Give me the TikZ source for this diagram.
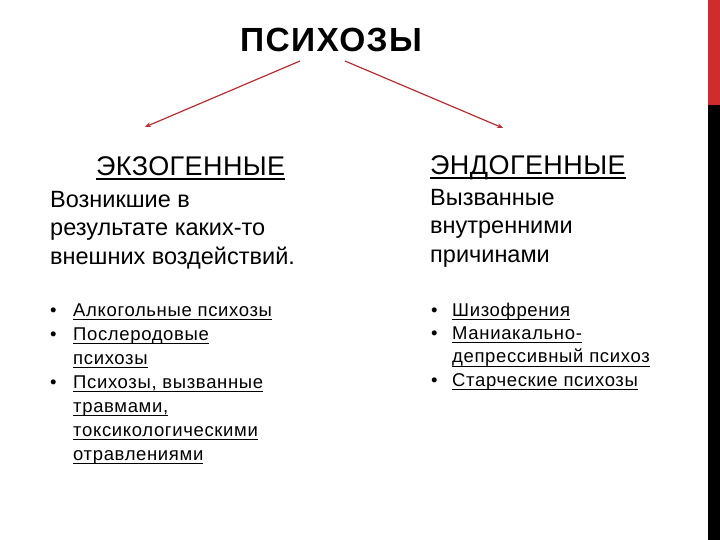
\documentclass[tikz,border=0pt]{standalone}
\usepackage{fontspec}
\setmainfont{Liberation Sans}
\usetikzlibrary{arrows.meta}
\definecolor{arrowred}{RGB}{185,45,50}
\definecolor{barred}{RGB}{205,45,45}
\tikzset{
  txt/.style={anchor=base west, inner sep=0pt, align=left},
  arr/.style={draw=arrowred, line width=1.2pt, -{Stealth[length=6pt,width=5pt]}},
  headfont/.style={font=\fontsize{27}{30}\selectfont\addfontfeature{LetterSpace=1.5}},
  descfont/.style={font=\fontsize{23.5}{28.5}\selectfont},
  bulfont/.style={font=\fontsize{18.5}{#1}\selectfont\addfontfeature{LetterSpace=3.5}},
}
\newcommand{\myul}[3]{\setbox0\hbox{#3}\rlap{\rule[-#1]{\wd0}{#2}}\box0}
\newcommand{\hul}[1]{\myul{4pt}{1.6pt}{#1}}
\newcommand{\bul}[1]{\myul{4pt}{1.2pt}{#1}}
\newcommand{\bl}{\makebox[23pt][l]{•}}
\newcommand{\nb}{\makebox[23pt][l]{}}
\newcommand{\br}{\makebox[21pt][l]{•}}
\newcommand{\nbr}{\makebox[21pt][l]{}}
\begin{document}
\begin{tikzpicture}[x=1pt,y=-1pt]
\useasboundingbox (0,0) rectangle (720,540);
\fill[white] (0,0) rectangle (720,540);
% right bar
\fill[barred] (708,0) rectangle (720,105);
\fill[black] (708,105) rectangle (720,540);
% title
\node[anchor=base, inner sep=0pt, font=\fontsize{33.5}{36}\selectfont\bfseries\addfontfeature{LetterSpace=4}] (title) at (331,52) {ПСИХОЗЫ};
\coordinate (ls) at (300,61);
\coordinate (le) at (145,127);
\coordinate (rs) at (345,61);
\coordinate (re) at (503,128);
\draw[arr] (ls) -- (le);
\draw[arr] (rs) -- (re);
% headings
\node[txt, headfont] (exo) at (96,176) {\hul{ЭКЗОГЕННЫЕ}};
\node[txt, headfont] (endo) at (430,175) {\hul{ЭНДОГЕННЫЕ}};
% descriptions (base anchor = last line)
\node[txt, descfont] (exod) at (50,264) {Возникшие в\\результате каких-то\\внешних воздействий.};
\node[txt, descfont] (endod) at (430,262) {Вызванные\\внутренними\\причинами};
% bullets left
\node[txt, bulfont=24] (exob) at (50,460) {%
\bl\bul{Алкогольные психозы}\\
\bl\bul{Послеродовые}\\
\nb\bul{психозы}\\
\bl\bul{Психозы, вызванные}\\
\nb\bul{травмами,}\\
\nb\bul{токсикологическими}\\
\nb\bul{отравлениями}};
% bullets right
\node[txt, bulfont=23.3] (endob) at (431,386) {%
\br\bul{Шизофрения}\\
\br\bul{Маниакально-}\\
\nbr\bul{депрессивный психоз}\\
\br\bul{Старческие психозы}};
\end{tikzpicture}
\end{document}
